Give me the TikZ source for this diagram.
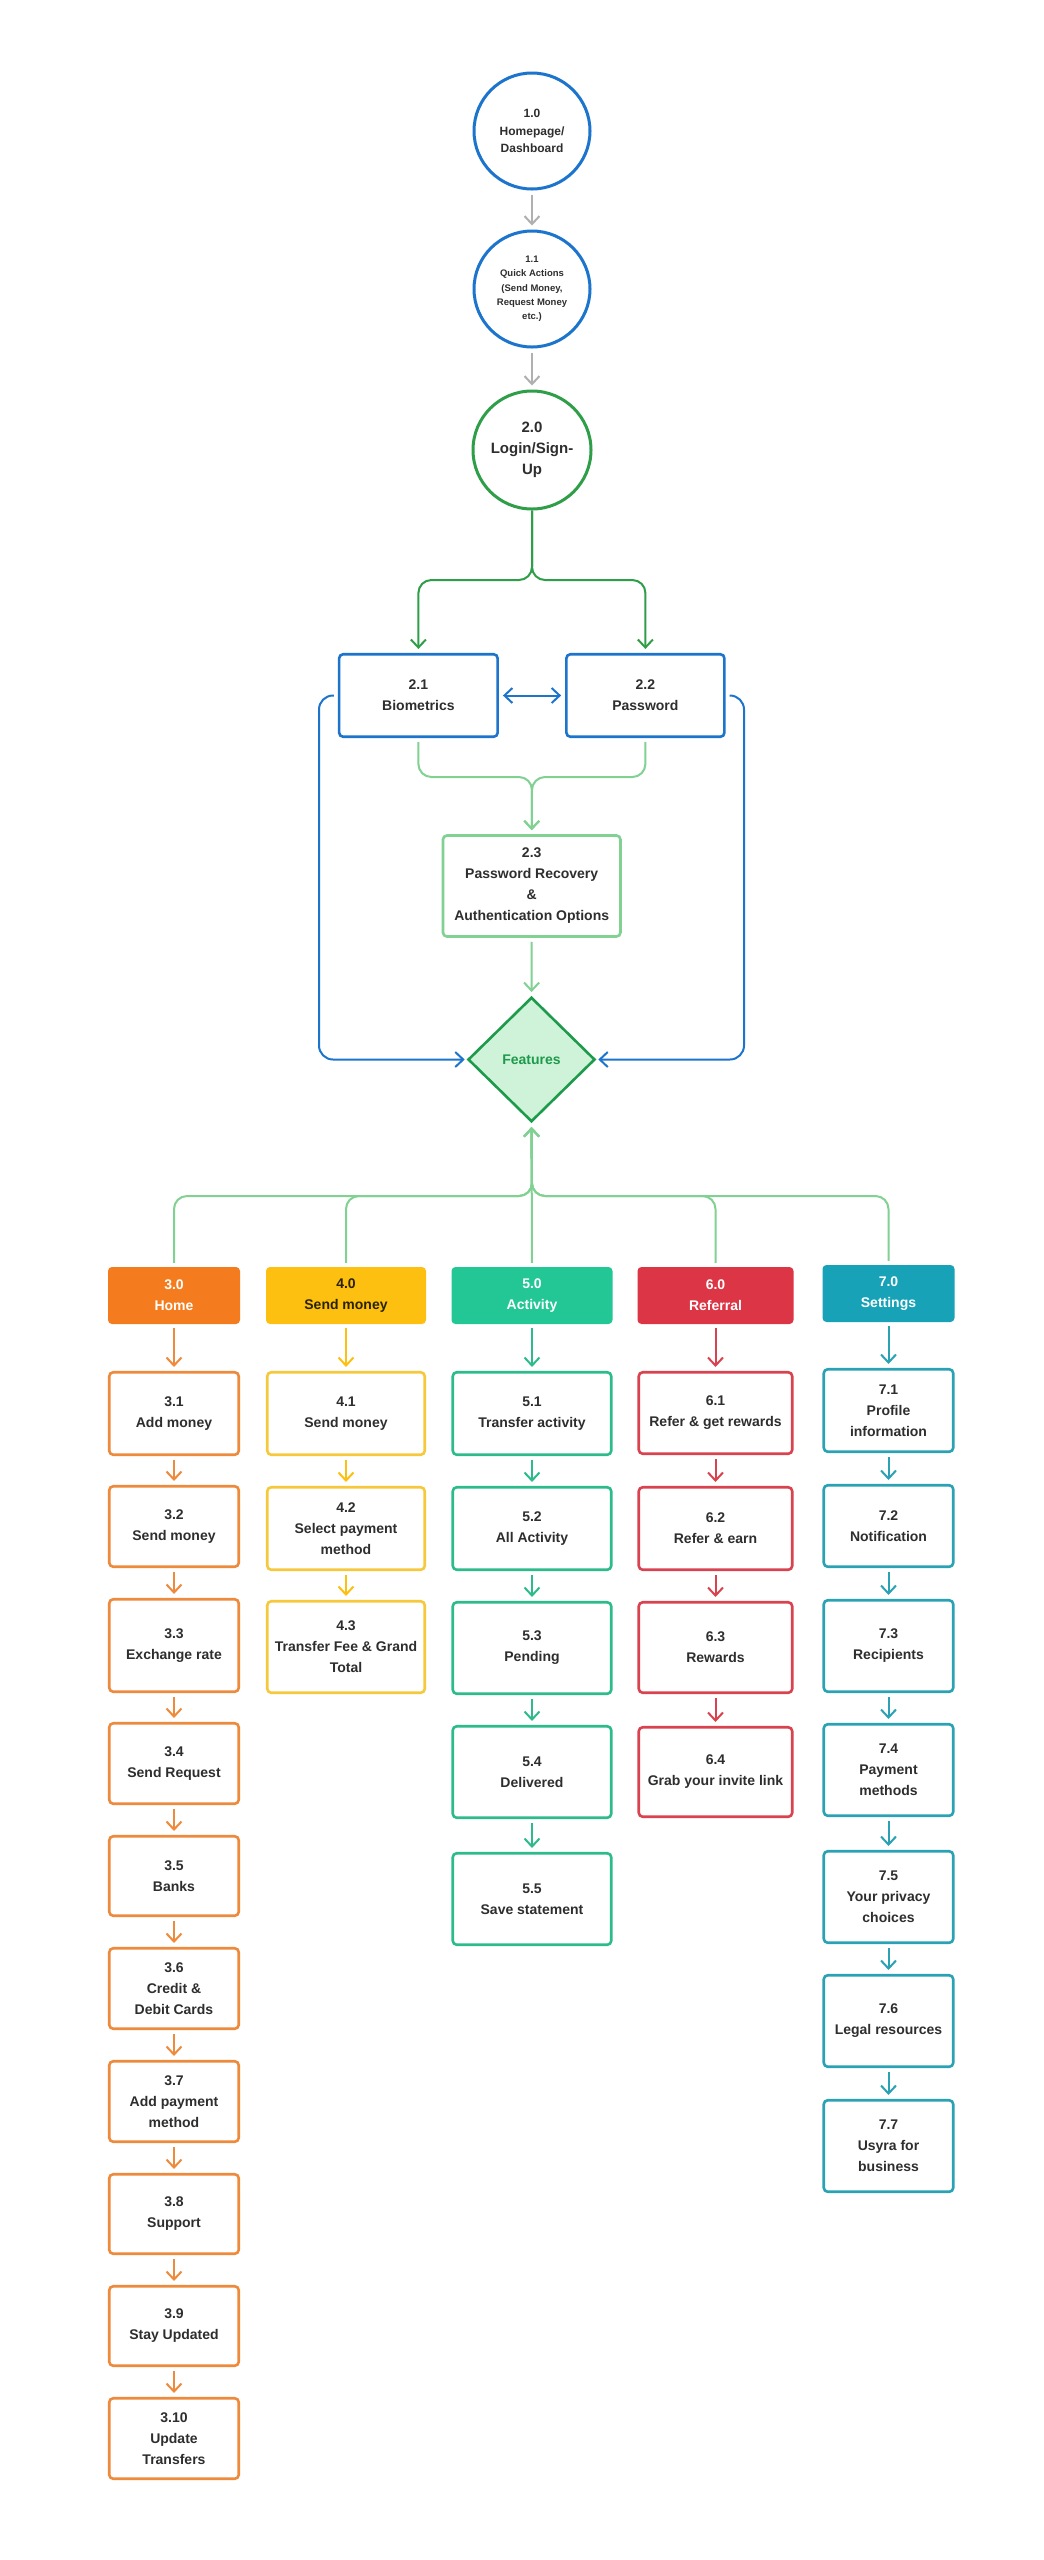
\documentclass[tikz,border=0pt]{standalone}
\usepackage{fontspec}
\setmainfont{Liberation Sans}
\usetikzlibrary{arrows.meta,shapes.geometric}
\definecolor{txt}{HTML}{2E2E2E}
\definecolor{blu}{HTML}{1C74CC}
\definecolor{dgreen}{HTML}{2F9E48}
\definecolor{lgreen}{HTML}{80D192}
\definecolor{fgreen}{HTML}{1E9A4C}
\definecolor{ffill}{HTML}{CFF3D8}
\definecolor{gry}{HTML}{B0B0B0}
\definecolor{cor}{HTML}{F57C1E}
\definecolor{corb}{HTML}{EE8A3C}
\definecolor{cyl}{HTML}{FDC010}
\definecolor{cylb}{HTML}{F6C83C}
\definecolor{ctl}{HTML}{22C795}
\definecolor{ctlb}{HTML}{2DBB8C}
\definecolor{crd}{HTML}{DC3545}
\definecolor{crdb}{HTML}{D9424F}
\definecolor{ccy}{HTML}{17A2B8}
\definecolor{ccyb}{HTML}{2AA2B4}
\definecolor{ytxt}{HTML}{2A2200}
\tikzset{
  every node/.style={font=\bfseries\fontsize{14}{21}\selectfont, text=txt, align=center, inner sep=0pt},
  circ/.style={circle, draw=#1, line width=3pt, minimum size=116pt, fill=white},
  obox/.style={rectangle, rounded corners=4pt, draw=#1, line width=2.6pt, fill=white},
  hdr/.style={rectangle, rounded corners=4pt, fill=#1, text=white, minimum height=57pt},
  wA/.style={minimum width=129.5pt},
  wB/.style={minimum width=157.5pt},
  wC/.style={minimum width=158.5pt},
  wD/.style={minimum width=153.5pt},
  conn/.style={draw=#1, line width=2pt, -{Straight Barb[length=8pt,width=15pt]}, shorten <=4pt, shorten >=4pt},
}
\begin{document}
\begin{tikzpicture}[x=1pt,y=-1pt]
\fill[white] (0,0) rectangle (1044,2560);
\useasboundingbox (0,0) rectangle (1044,2560);

% circles
\node[circ=blu, font=\bfseries\fontsize{12}{17.7}\selectfont] (c10) at (532,131) {1.0\\Homepage/\\Dashboard};
\node[circ=blu, font=\bfseries\fontsize{9.5}{14.3}\selectfont] (c11) at (532,289) {1.1\\Quick Actions\\(Send Money,\\Request Money\\etc.)};
\node[circ=dgreen, minimum size=118pt, font=\bfseries\fontsize{15}{21}\selectfont] (c20) at (532,450) {2.0\\Login/Sign-\\Up};
\draw[conn=gry] (c10) -- (c11);
\draw[conn=gry] (c11) -- (c20);

% login boxes
\node[obox=blu, minimum width=158.5pt, minimum height=82.5pt] (b21) at (418.4,695.5) {2.1\\Biometrics};
\node[obox=blu, minimum width=158pt, minimum height=82.5pt] (b22) at (645.4,695.5) {2.2\\Password};
\node[obox=lgreen, minimum width=177.5pt, minimum height=101pt] (b23) at (531.7,886) {2.3\\Password Recovery\\\&\\Authentication Options};
\node[diamond, draw=fgreen, fill=ffill, line width=2.6pt, minimum width=127pt, minimum height=124.5pt, text=fgreen] (feat) at (531.5,1059.5) {Features};

\coordinate (sp) at (532,580);
\draw[conn=dgreen, rounded corners=13pt, shorten <=0pt] (c20.south) -- (sp) -| (b21.north);
\draw[conn=dgreen, rounded corners=13pt, shorten <=0pt] (c20.south) -- (sp) -| (b22.north);
\draw[conn=blu, {Straight Barb[length=8pt,width=15pt]}-{Straight Barb[length=8pt,width=15pt]}] (b21) -- (b22);

\coordinate (mg) at (532,777);
\draw[conn=lgreen, rounded corners=13pt] (b21.south) |- (mg) -- (b23.north);
\draw[conn=lgreen, rounded corners=13pt] (b22.south) |- (mg) -- (b23.north);
\draw[conn=lgreen] (b23) -- (feat);

\coordinate (bl) at (319,1059.5);
\coordinate (br) at (744,1059.5);
\draw[conn=blu, rounded corners=14pt, shorten >=2pt] (b21.west) -| (bl) -- (feat.west);
\draw[conn=blu, rounded corners=14pt, shorten >=2pt] (b22.east) -| (br) -- (feat.east);

% headers
\node[hdr=cor, minimum width=132pt] (h3) at (174,1295.5) {3.0\\Home};
\node[hdr=cyl, minimum width=160pt, text=ytxt] (h4) at (346,1295.5) {4.0\\Send money};
\node[hdr=ctl, minimum width=161pt] (h5) at (532,1295.5) {5.0\\Activity};
\node[hdr=crd, minimum width=156pt] (h6) at (715.5,1295.5) {6.0\\Referral};
\node[hdr=ccy, minimum width=132pt] (h7) at (888.5,1293.5) {7.0\\Settings};

\coordinate (fj) at (532,1196);
\foreach \h in {h3,h4,h6,h7}{
  \draw[conn=lgreen, rounded corners=13pt] (\h.north) |- (fj) -- (feat.south);
}
\draw[conn=lgreen] (h5.north) -- (feat.south);

% column 3
\node[obox=corb, wA, minimum height=82.5pt] (n31) at (174,1413.5) {3.1\\Add money};
\node[obox=corb, wA, minimum height=80.5pt] (n32) at (174,1526.5) {3.2\\Send money};
\node[obox=corb, wA, minimum height=92.5pt] (n33) at (174,1645.5) {3.3\\Exchange rate};
\node[obox=corb, wA, minimum height=80.5pt] (n34) at (174,1763.5) {3.4\\Send Request};
\node[obox=corb, wA, minimum height=79.5pt] (n35) at (174,1876) {3.5\\Banks};
\node[obox=corb, wA, minimum height=80.5pt] (n36) at (174,1988.5) {3.6\\Credit \&\\Debit Cards};
\node[obox=corb, wA, minimum height=80.5pt] (n37) at (174,2101.5) {3.7\\Add payment\\method};
\node[obox=corb, wA, minimum height=79.5pt] (n38) at (174,2214) {3.8\\Support};
\node[obox=corb, wA, minimum height=79.5pt] (n39) at (174,2326) {3.9\\Stay Updated};
\node[obox=corb, wA, minimum height=80.5pt] (n310) at (174,2438.5) {3.10\\Update\\Transfers};
\draw[conn=corb] (h3) -- (n31);
\draw[conn=corb] (n31) -- (n32);
\draw[conn=corb] (n32) -- (n33);
\draw[conn=corb] (n33) -- (n34);
\draw[conn=corb] (n34) -- (n35);
\draw[conn=corb] (n35) -- (n36);
\draw[conn=corb] (n36) -- (n37);
\draw[conn=corb] (n37) -- (n38);
\draw[conn=corb] (n38) -- (n39);
\draw[conn=corb] (n39) -- (n310);

% column 4
\node[obox=cylb, wB, minimum height=82.5pt] (n41) at (346,1413.5) {4.1\\Send money};
\node[obox=cylb, wB, minimum height=82.5pt] (n42) at (346,1528.5) {4.2\\Select payment\\method};
\node[obox=cylb, wB, minimum height=91.5pt] (n43) at (346,1647) {4.3\\Transfer Fee \& Grand\\Total};
\draw[conn=cyl] (h4) -- (n41);
\draw[conn=cyl] (n41) -- (n42);
\draw[conn=cyl] (n42) -- (n43);

% column 5
\node[obox=ctlb, wC, minimum height=82.5pt] (n51) at (532,1413.5) {5.1\\Transfer activity};
\node[obox=ctlb, wC, minimum height=82.5pt] (n52) at (532,1528.5) {5.2\\All Activity};
\node[obox=ctlb, wC, minimum height=91.5pt] (n53) at (532,1648) {5.3\\Pending};
\node[obox=ctlb, wC, minimum height=91.5pt] (n54) at (532,1772) {5.4\\Delivered};
\node[obox=ctlb, wC, minimum height=91.5pt] (n55) at (532,1899) {5.5\\Save statement};
\draw[conn=ctlb] (h5) -- (n51);
\draw[conn=ctlb] (n51) -- (n52);
\draw[conn=ctlb] (n52) -- (n53);
\draw[conn=ctlb] (n53) -- (n54);
\draw[conn=ctlb] (n54) -- (n55);

% column 6
\node[obox=crdb, wD, minimum height=81.5pt] (n61) at (715.5,1413) {6.1\\Refer \& get rewards};
\node[obox=crdb, wD, minimum height=82.5pt] (n62) at (715.5,1528.5) {6.2\\Refer \& earn};
\node[obox=crdb, wD, minimum height=90.5pt] (n63) at (715.5,1647.5) {6.3\\Rewards};
\node[obox=crdb, wD, minimum height=89.5pt] (n64) at (715.5,1772) {6.4\\Grab your invite link};
\draw[conn=crdb] (h6) -- (n61);
\draw[conn=crdb] (n61) -- (n62);
\draw[conn=crdb] (n62) -- (n63);
\draw[conn=crdb] (n63) -- (n64);

% column 7
\node[obox=ccyb, wA, minimum height=82.5pt] (n71) at (888.5,1410.5) {7.1\\Profile\\information};
\node[obox=ccyb, wA, minimum height=81.5pt] (n72) at (888.5,1526) {7.2\\Notification};
\node[obox=ccyb, wA, minimum height=91.5pt] (n73) at (888.5,1646) {7.3\\Recipients};
\node[obox=ccyb, wA, minimum height=91.5pt] (n74) at (888.5,1770) {7.4\\Payment\\methods};
\node[obox=ccyb, wA, minimum height=91.5pt] (n75) at (888.5,1897) {7.5\\Your privacy\\choices};
\node[obox=ccyb, wA, minimum height=91.5pt] (n76) at (888.5,2021) {7.6\\Legal resources};
\node[obox=ccyb, wA, minimum height=91.5pt] (n77) at (888.5,2146) {7.7\\Usyra for\\business};
\draw[conn=ccyb] (h7) -- (n71);
\draw[conn=ccyb] (n71) -- (n72);
\draw[conn=ccyb] (n72) -- (n73);
\draw[conn=ccyb] (n73) -- (n74);
\draw[conn=ccyb] (n74) -- (n75);
\draw[conn=ccyb] (n75) -- (n76);
\draw[conn=ccyb] (n76) -- (n77);
\end{tikzpicture}
\end{document}
